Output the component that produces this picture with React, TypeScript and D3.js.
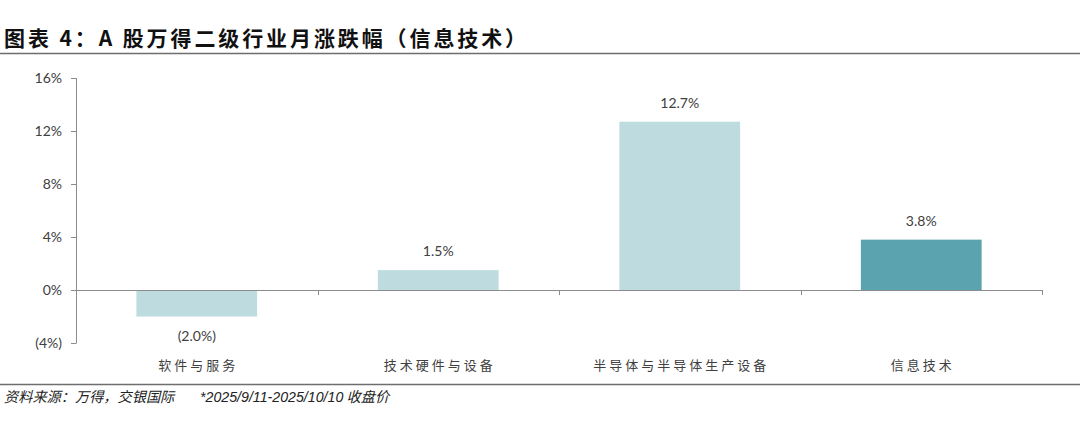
import React from "react";
import * as d3 from "d3";

const categories = ["软件与服务", "技术硬件与设备", "半导体与半导体生产设备", "信息技术"];
const values = [-2.0, 1.5, 12.7, 3.8];
const highlight = [false, false, false, true];
const yTicks = [-4, 0, 4, 8, 12, 16];

const W = 1080;
const H = 429;

const fmt = (v: number, d: number) => (v < 0 ? `(${Math.abs(v).toFixed(d)}%)` : `${v.toFixed(d)}%`);

export default function App() {
  const x = d3.scaleBand<string>().domain(categories).range([76, 1042]).paddingInner(0.5).paddingOuter(0.25);
  const xEdge = d3.scaleLinear().domain([0, categories.length]).range([76, 1042]);
  const y = d3.scaleLinear().domain([-4, 16]).range([343, 78]);
  const numFont = "Lato, 'Open Sans', sans-serif";
  const cjk = "'Noto Sans CJK SC', sans-serif";
  return (
    <svg width={W} height={H} style={{ position: "absolute", left: 0, top: 0, background: "#fff" }}>
      <text x={4} y={46} fontFamily={cjk} fontWeight={700} fontSize={21} letterSpacing={2.9} fill="#111">
        图表 4：A 股万得二级行业月涨跌幅（信息技术）
      </text>
      <line x1={0} x2={W} y1={53.5} y2={53.5} stroke="#6e6e6e" strokeWidth={1.5} />

      {/* y axis */}
      <line x1={76.5} x2={76.5} y1={y(16)} y2={y(-4)} stroke="#8c8c8c" strokeWidth={1} />
      {yTicks.map((t) => (
        <g key={t}>
          <line x1={71} x2={76.5} y1={Math.round(y(t)) + 0.5} y2={Math.round(y(t)) + 0.5} stroke="#8c8c8c" />
          <text x={62} y={y(t) + 5} textAnchor="end" fontFamily={numFont} fontSize={14} fill="#404040">
            {fmt(t, 0)}
          </text>
        </g>
      ))}

      {/* bars */}
      {categories.map((c, i) => {
        const v = values[i];
        const y0 = y(Math.max(0, v));
        const y1 = y(Math.min(0, v));
        return (
          <rect key={c} x={x(c)} y={y0} width={x.bandwidth()} height={y1 - y0} fill={highlight[i] ? "#5BA3AF" : "#BEDCE0"} />
        );
      })}

      {/* x axis */}
      <line x1={76} x2={1042} y1={y(0) + 0.5} y2={y(0) + 0.5} stroke="#8c8c8c" />
      {d3.range(categories.length + 1).map((i) => (
        <line key={i} x1={Math.round(xEdge(i)) + 0.5} x2={Math.round(xEdge(i)) + 0.5} y1={y(0)} y2={y(0) + 5} stroke="#8c8c8c" />
      ))}

      {/* value labels */}
      {categories.map((c, i) => {
        const v = values[i];
        const cx = (x(c) as number) + x.bandwidth() / 2;
        const ty = v >= 0 ? y(v) - 14 : y(v) + 24;
        return (
          <text key={c} x={cx} y={ty} textAnchor="middle" fontFamily={numFont} fontSize={14} fill="#404040">
            {fmt(v, 1)}
          </text>
        );
      })}

      {/* category labels */}
      {categories.map((c) => (
        <text key={c} x={(x(c) as number) + x.bandwidth() / 2 + 1.5} y={370} textAnchor="middle" fontFamily={cjk} fontSize={13} letterSpacing={3} fill="#404040">
          {c}
        </text>
      ))}

      <line x1={0} x2={W} y1={384.5} y2={384.5} stroke="#6e6e6e" strokeWidth={1.5} />
      <text x={4} y={402} fontFamily={cjk} fontSize={14.2} fontStyle="italic" fill="#222">
        资料来源：万得，交银国际
        <tspan x={200} fontFamily="'Liberation Sans', sans-serif">*2025/9/11-2025/10/10</tspan> 收盘价
      </text>
    </svg>
  );
}
